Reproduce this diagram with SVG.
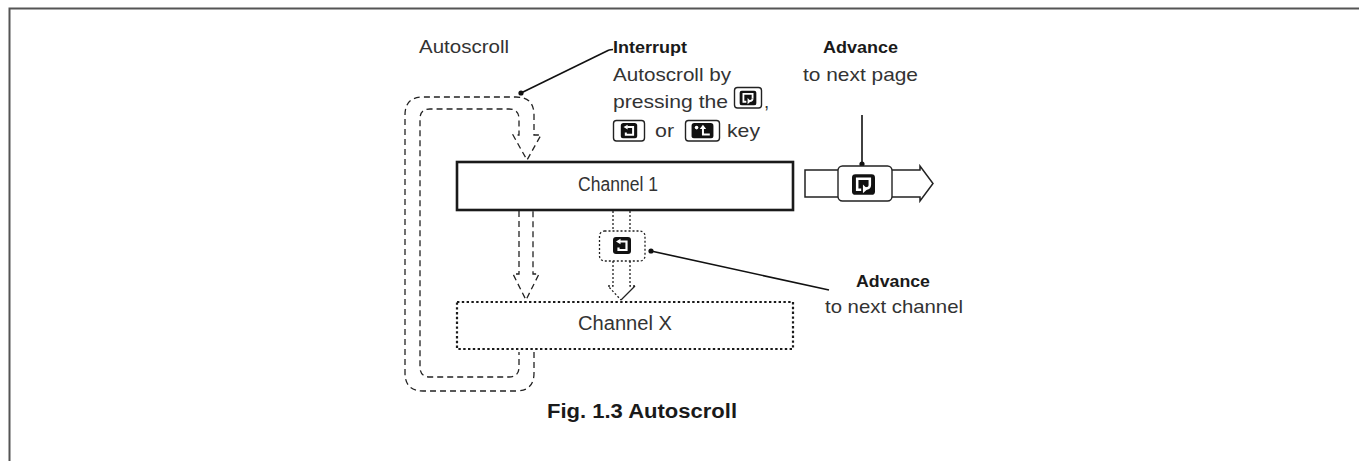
<svg xmlns="http://www.w3.org/2000/svg" xmlns:xlink="http://www.w3.org/1999/xlink" width="1359" height="461" viewBox="0 0 1359 461">
<style>
.t{font-family:"Liberation Sans",Arial,sans-serif;font-size:18.5px;fill:#333;}
.ch{font-family:"Liberation Sans",Arial,sans-serif;font-size:20px;fill:#333;}
.b{font-family:"Liberation Sans",Arial,sans-serif;font-size:17px;font-weight:bold;fill:#1a1a1a;}
.cap{font-family:"Liberation Sans",Arial,sans-serif;font-size:20px;font-weight:bold;fill:#1a1a1a;}
.dash{fill:none;stroke:#222;stroke-width:1.3;stroke-dasharray:6,4;}
.dot{fill:none;stroke:#222;stroke-width:1.3;stroke-dasharray:2,2;}
.lead{fill:none;stroke:#111;stroke-width:1.6;}
.key{fill:#fff;stroke:#222;stroke-width:1.4;}
</style>
<defs>
<symbol id="ic-page" viewBox="0 0 20 18">
<rect width="20" height="18" rx="3" fill="#111"/>
<path d="M8 13.5 H4.5 V4 H15.5 V9.5" stroke="#fff" stroke-width="2.2" fill="none"/>
<path d="M15.5 9.5 Q15.5 12.5 12 12.5 H10" stroke="#fff" stroke-width="2.2" fill="none"/>
<polygon points="9.5,9 13.5,13 9.5,16.5" fill="#fff"/>
</symbol>
<symbol id="ic-chan" viewBox="0 0 18 17">
<rect width="18" height="17" rx="3" fill="#111"/>
<path d="M7 4.5 H13.5 V13 H5.5 V10.5" stroke="#fff" stroke-width="2.2" fill="none"/>
<polygon points="3,4.5 7.5,1.8 7.5,7.2" fill="#fff"/>
</symbol>
<symbol id="ic-back" viewBox="0 0 24 17">
<rect width="24" height="17" rx="3" fill="#111"/>
<circle cx="5.5" cy="5" r="2" fill="#fff"/>
<path d="M12.5 6 V12.5 H20" stroke="#fff" stroke-width="2.2" fill="none"/>
<polygon points="12.5,2 9,6.5 16,6.5" fill="#fff"/>
</symbol>
</defs>
<rect width="1359" height="461" fill="#fff"/>
<g id="frame" fill="none" stroke="#555" stroke-width="2">
<path d="M1359 8.5 H9.5 V461"/>
</g>
<g id="connectors">
<path class="dash" d="M534 352 V373 Q534 391 516 391 H423 Q405 391 405 373 V115 Q405 97 423 97 H516 Q534 97 534 115 V135 H541 L527 160 L513 135 H519 V119 Q519 109 509 109 H430 Q420 109 420 119 V367 Q420 377 430 377 H509 Q519 377 519 367 V352"/>
<path class="dash" d="M519 211 V274 H513 L526 300 L539 274 H533 V211"/>
<path class="dot" d="M613 211 V231 M630 211 V231"/>
<path class="dot" d="M613 261 V286 H608 L621 300 M630 261 V286 H635"/>
<path d="M635 286 L621 300" fill="none" stroke="#222" stroke-width="1.3"/>
<line class="lead" x1="521" y1="93" x2="609" y2="50"/>
<line class="lead" x1="609" y1="50" x2="613" y2="49.5"/>
<circle cx="521" cy="93" r="2.6" fill="#111"/>
<line class="lead" x1="862" y1="115" x2="862" y2="165"/>
<circle cx="862" cy="164" r="2.6" fill="#111"/>
<line class="lead" x1="651" y1="251" x2="829" y2="290"/>
<circle cx="651" cy="251" r="2.6" fill="#111"/>
</g>
<g id="label-autoscroll">
<text class="t" x="419" y="53" textLength="90" lengthAdjust="spacingAndGlyphs">Autoscroll</text>
</g>
<g id="label-interrupt">
<text class="b" x="613" y="53" textLength="74" lengthAdjust="spacingAndGlyphs">Interrupt</text>
<text class="t" x="613" y="81" textLength="118" lengthAdjust="spacingAndGlyphs">Autoscroll by</text>
<text class="t" x="613" y="108" textLength="115" lengthAdjust="spacingAndGlyphs">pressing the</text>
<rect class="key" x="734.5" y="87.5" width="27" height="20.5" rx="3"/>
<use xlink:href="#ic-page" x="739" y="90.5" width="18" height="15"/>
<text class="t" x="764" y="108">,</text>
<rect class="key" x="613.5" y="120.5" width="31" height="20.5" rx="3"/>
<use xlink:href="#ic-chan" x="620" y="123" width="18" height="15.5"/>
<text class="t" x="655" y="137" textLength="19" lengthAdjust="spacingAndGlyphs">or</text>
<rect class="key" x="685.5" y="120.5" width="34" height="20.5" rx="3"/>
<use xlink:href="#ic-back" x="690.5" y="123" width="24" height="15.5"/>
<text class="t" x="727" y="137" textLength="33" lengthAdjust="spacingAndGlyphs">key</text>
</g>
<g id="label-advance-page">
<text class="b" x="823" y="53" textLength="75" lengthAdjust="spacingAndGlyphs">Advance</text>
<text class="t" x="803" y="81" textLength="115" lengthAdjust="spacingAndGlyphs">to next page</text>
</g>
<g id="node-channel1">
<rect x="457" y="162" width="336" height="48" fill="#fff" stroke="#1a1a1a" stroke-width="2.6"/>
<text class="ch" x="578" y="191" textLength="80" lengthAdjust="spacingAndGlyphs">Channel 1</text>
</g>
<g id="node-channelx">
<rect x="457" y="302" width="336" height="47" fill="#fff" stroke="#1a1a1a" stroke-width="2.2" stroke-dasharray="2.4,2.4"/>
<text class="ch" x="578" y="330" textLength="94" lengthAdjust="spacingAndGlyphs">Channel X</text>
</g>
<g id="node-chankey">
<rect class="dot" x="599.5" y="231" width="45.5" height="30" rx="5"/>
<use xlink:href="#ic-chan" x="613" y="237" width="18" height="17"/>
</g>
<g id="node-pagearrow">
<polygon points="805,170 920,170 920,166 933,183.5 920,201 920,197 805,197" fill="#fff" stroke="#222" stroke-width="1.5" stroke-linejoin="miter"/>
<rect class="key" x="838" y="166" width="54" height="35" rx="4.5" stroke-width="1.6"/>
<use xlink:href="#ic-page" x="852" y="174" width="23" height="21"/>
</g>
<g id="label-advance-channel">
<text class="b" x="856" y="287" textLength="74" lengthAdjust="spacingAndGlyphs">Advance</text>
<text class="t" x="825" y="313" textLength="138" lengthAdjust="spacingAndGlyphs">to next channel</text>
</g>
<g id="caption">
<text class="cap" x="547" y="418" textLength="190" lengthAdjust="spacingAndGlyphs">Fig. 1.3 Autoscroll</text>
</g>
</svg>
